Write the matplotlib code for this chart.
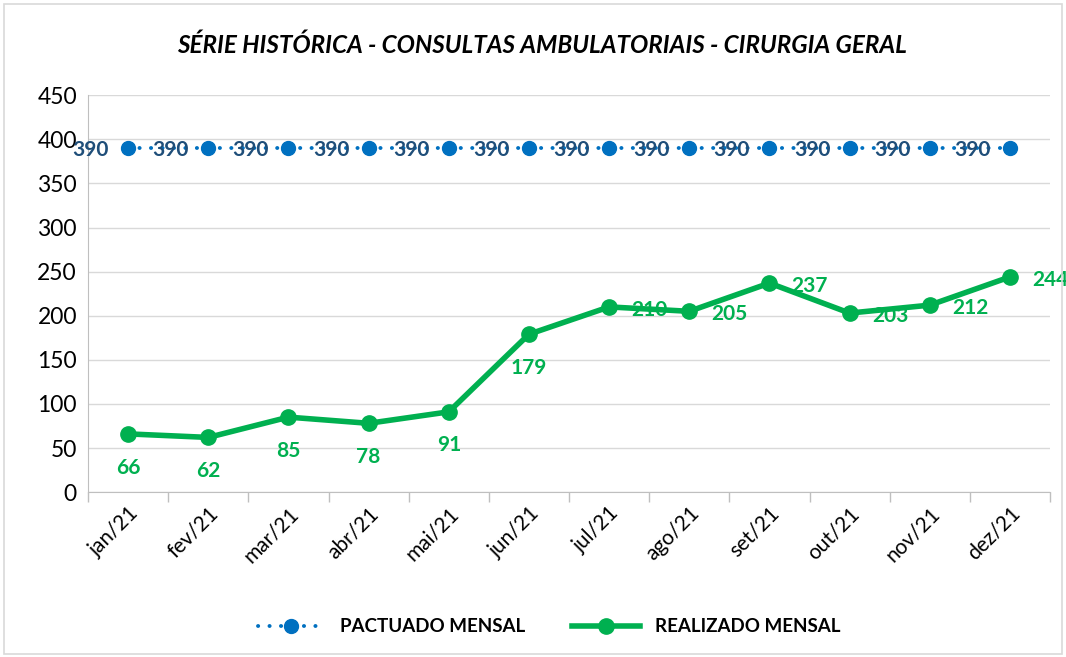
import matplotlib
matplotlib.use("Agg")
import matplotlib.pyplot as plt
from matplotlib.patches import Rectangle

months = ["jan/21", "fev/21", "mar/21", "abr/21", "mai/21", "jun/21",
          "jul/21", "ago/21", "set/21", "out/21", "nov/21", "dez/21"]
pactuado = [390, 390, 390, 390, 390, 390, 390, 390, 390, 390, 390, 390]
realizado = [66, 62, 85, 78, 91, 179, 210, 205, 237, 203, 212, 244]
label_pos = ["below", "below", "below", "below", "below", "below",
             "right", "right", "right", "right", "right", "right"]

plt.rcParams['font.family'] = ['Lato', 'DejaVu Sans']

fig = plt.figure(figsize=(10.66, 6.57), dpi=100)
fig.patches.append(Rectangle((0.004, 0.004), 0.992, 0.990, transform=fig.transFigure,
                             fill=False, edgecolor="#D9D9D9", linewidth=1.2))
ax = fig.add_axes([0.0826, 0.251, 0.9024, 0.604])

x = list(range(len(months)))
blue = "#0070C0"
green = "#00B050"

ax.plot(x, pactuado, linestyle=(0, (0.05, 2.9)), dash_capstyle="round", color=blue,
        linewidth=2.8, marker="o", markersize=10, markerfacecolor=blue,
        markeredgecolor=blue, label="PACTUADO MENSAL", zorder=3)
ax.plot(x, realizado, color=green, linewidth=4, marker="o", markersize=11,
        label="REALIZADO MENSAL", zorder=4)

for xi, v in zip(x, pactuado):
    ax.annotate(str(v), (xi, v), xytext=(-14, -1), textcoords="offset points",
                ha="right", va="center", color="#1F4E79", fontsize=15,
                fontweight="bold", zorder=5)

for xi, v, p in zip(x, realizado, label_pos):
    if p == "below":
        off, ha, va = (0, -17), "center", "top"
    else:
        off, ha, va = (16, -2), "left", "center"
    ax.annotate(str(v), (xi, v), xytext=off, textcoords="offset points",
                ha=ha, va=va, color=green, fontsize=15, fontweight="bold",
                zorder=5, annotation_clip=False)

ax.set_xlim(-0.5, len(months) - 0.5)
ax.set_ylim(0, 450)
ax.set_yticks(range(0, 451, 50))
ax.yaxis.grid(True, color="#D9D9D9", linewidth=1)
ax.set_axisbelow(True)
ax.set_xticks(x)
ax.set_xticklabels(months, rotation=45, ha="right", rotation_mode="anchor", fontsize=15)
ax.set_xticks([i - 0.5 for i in range(len(months) + 1)], minor=True)
ax.tick_params(axis="x", which="major", length=0, pad=8)
ax.tick_params(axis="x", which="minor", length=7, color="#BFBFBF", width=1)
ax.tick_params(axis="y", length=0, labelsize=16.5, pad=8)
for s in ["top", "right"]:
    ax.spines[s].set_visible(False)
ax.spines["left"].set_color("#BFBFBF")
ax.spines["bottom"].set_color("#BFBFBF")

fig.text(0.508, 0.931, "SÉRIE HISTÓRICA - CONSULTAS AMBULATORIAIS - CIRURGIA GERAL",
         ha="center", va="center", fontsize=17.5, fontweight="bold", fontstyle="italic")

leg = fig.legend(loc="center", bbox_to_anchor=(0.515, 0.046), ncol=2, frameon=False,
                 prop={"weight": "bold", "size": 13.5}, handlelength=3.6, columnspacing=2.5,
                 handletextpad=0.8)

fig.savefig("out.png", dpi=100)
